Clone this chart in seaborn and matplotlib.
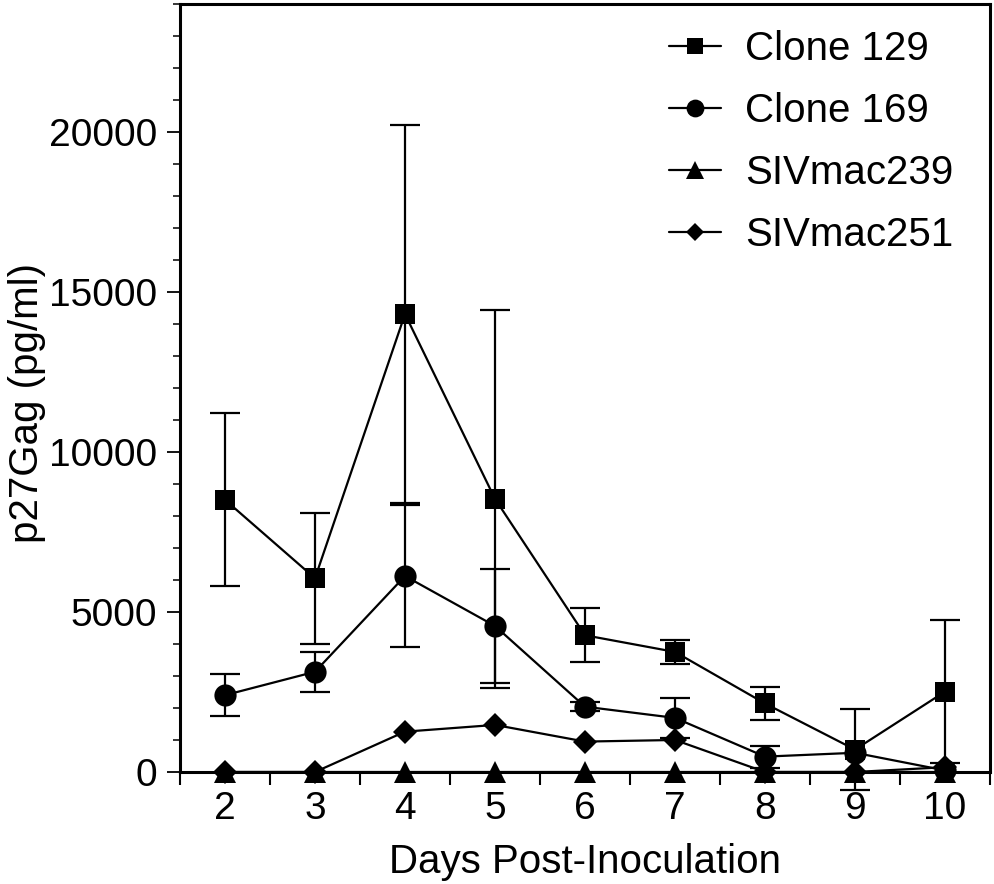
import matplotlib
matplotlib.use("Agg")
import matplotlib.pyplot as plt
import seaborn as sns
import numpy as np
import pandas as pd
from matplotlib.ticker import MultipleLocator, FixedLocator

days = [2, 3, 4, 5, 6, 7, 8, 9, 10]
series_names = ["Clone 129", "Clone 169", "SIVmac239", "SIVmac251"]
clone129 = [8500, 6050, 14300, 8530, 4270, 3750, 2140, 700, 2510]
clone129_err = [2700, 2040, 5900, 5900, 850, 380, 520, 1260, 2240]
clone169 = [2400, 3130, 6120, 4560, 2040, 1690, 480, 600, 50]
clone169_err = [650, 625, 2220, 1770, 150, 630, 340, 0, 0]
siv239 = [0, 0, 0, 0, 0, 0, 0, 0, 0]
siv239_err = [0, 0, 0, 0, 0, 0, 0, 0, 0]
siv251 = [0, 0, 1260, 1470, 950, 1000, 0, 0, 150]
siv251_err = [0, 0, 0, 0, 0, 0, 0, 0, 0]

values = [clone129, clone169, siv239, siv251]
errors = [clone129_err, clone169_err, siv239_err, siv251_err]
markers = ["s", "o", "^", "D"]
msizes = [15, 16, 16, 12]

sns.set_theme(style="ticks")
plt.rcParams["font.family"] = ["Liberation Sans", "DejaVu Sans"]
plt.rcParams["text.color"] = "black"
plt.rcParams["axes.labelcolor"] = "black"
plt.rcParams["xtick.color"] = "black"
plt.rcParams["ytick.color"] = "black"

fig = plt.figure(figsize=(9.94, 8.84), dpi=100)
ax = fig.add_axes([180 / 994, 1 - 772 / 884, 810 / 994, 768.5 / 884])

for name, vals, errs, m, ms in zip(series_names, values, errors, markers, msizes):
    df = pd.DataFrame({"day": days, "value": vals})
    sns.lineplot(data=df, x="day", y="value", marker=m, markersize=ms,
                 color="black", linewidth=1.6, markeredgewidth=0,
                 label=name, ax=ax, clip_on=False, zorder=3)
    idx = [i for i, e in enumerate(errs) if e > 0]
    if idx:
        cont = ax.errorbar([days[i] for i in idx], [vals[i] for i in idx],
                           yerr=[errs[i] for i in idx], fmt="none",
                           ecolor="black", elinewidth=1.6, capsize=11,
                           capthick=1.6, zorder=2)
        for art in list(cont.lines[1]) + list(cont.lines[2]):
            art.set_clip_on(False)

ax.set_xlim(1.5, 10.5)
ax.set_ylim(0, 24000)
ax.xaxis.set_major_locator(FixedLocator(days))
ax.set_xticks([d + 0.5 for d in range(1, 11)], minor=True)
ax.set_yticks([0, 5000, 10000, 15000, 20000])
ax.yaxis.set_minor_locator(MultipleLocator(1000))

ax.tick_params(axis="x", which="major", length=0, pad=14, labelsize=28)
ax.tick_params(axis="x", which="minor", length=9, width=1.5, direction="out")
ax.tick_params(axis="y", which="major", length=9.4, width=1.3, pad=7, labelsize=28)
ax.tick_params(axis="y", which="minor", length=5, width=1.1)

for sp in ax.spines.values():
    sp.set_linewidth(2.2)
    sp.set_color("black")

ax.set_xlabel("Days Post-Inoculation", fontsize=29, labelpad=11)
ax.set_ylabel("p27Gag (pg/ml)", fontsize=29)
ax.yaxis.set_label_coords(-0.165, 0.48)

ax.legend(frameon=False, fontsize=29, loc="upper right",
          bbox_to_anchor=(0.985, 0.997), handlelength=1.3,
          handletextpad=0.6, labelspacing=0.6, markerscale=0.8,
          borderaxespad=0.2)

fig.savefig("out.png", dpi=100)
